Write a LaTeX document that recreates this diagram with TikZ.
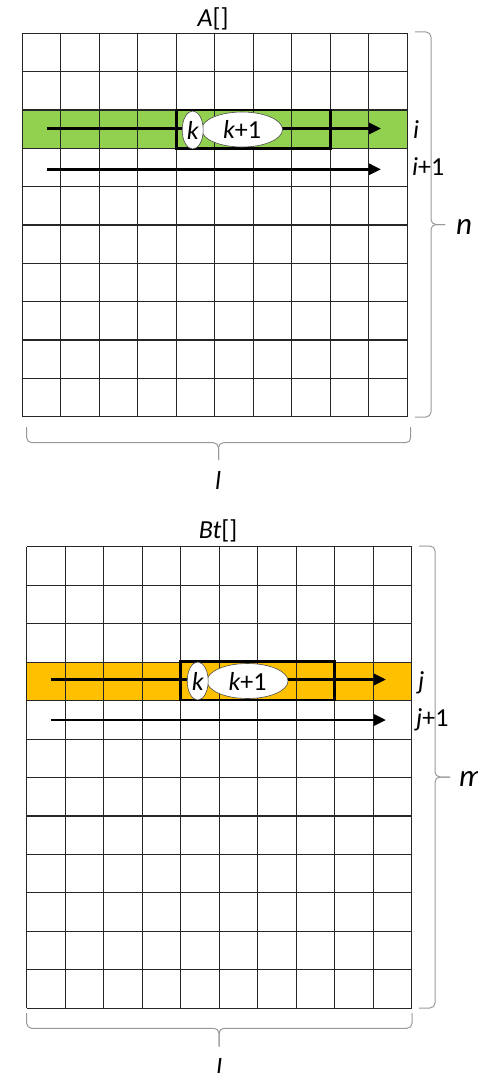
\documentclass[tikz,border=0pt]{standalone}
\usepackage{fontspec}
\setmainfont{Carlito}
\usepackage{xcolor}
\usetikzlibrary{arrows.meta, shapes.geometric, positioning}

\definecolor{rowgreen}{HTML}{92D050}
\definecolor{roworange}{HTML}{FFC000}

\begin{document}
\begin{tikzpicture}[
    x=1pt, y=-1pt,
    >={Triangle[length=12pt, width=11pt]},
    cell/.style={line width=1.1pt, black!85},
    loopbox/.style={line width=2.6pt},
    pass/.style={->, line width=2.8pt},
    elem/.style={ellipse, draw=black!70, fill=white, line width=0.6pt, inner sep=0pt,
        font=\fontsize{26}{30}\selectfont},
    bracket/.style={draw=black!40, line width=1pt, rounded corners=5pt},
    lbl/.style={font=\fontsize{26}{30}\selectfont\itshape, inner sep=0pt},
    dimlbl/.style={font=\fontsize{31}{36}\selectfont\itshape, inner sep=0pt, anchor=west}
]
\useasboundingbox (0,0) rectangle (477,1073);

% === 矩阵 A ===
\fill[rowgreen] (22.3,110) rectangle (407.3,148.6);
\foreach \c in {0,...,10}
    \draw[cell] (22.3+38.5*\c, 33.3) -- ++(0,383.4);
\foreach \r in {0,...,10}
    \draw[cell] (22.3, 33.3+38.34*\r) -- ++(385,0);
\draw[loopbox] (176.3,110) rectangle (330.3,148.6);

\coordinate (ai0) at (46.7,128.5);
\coordinate (ai1) at (381,128.5);
\coordinate (aj0) at (46.7,169.3);
\coordinate (aj1) at (381,169.3);
\draw[pass] (ai0) -- (ai1);
\draw[pass] (aj0) -- (aj1);

\node[elem, minimum width=81, minimum height=35] (akk) at (242,129.5) {\itshape k\upshape+1};
\node[elem, minimum width=21, minimum height=38] (ak) at (192.7,130) {\itshape k};

\node[lbl] (atitle) at (213,19) {A\upshape[]};
\node[lbl, anchor=west] (ai) at (413,130) {i};
\node[lbl, anchor=west] (ai1lbl) at (412,167) {i\upshape+1};

% === 括号 n, l ===
\draw[bracket] (415,32) -- (431,32) -- (431,224.5) -- (445,224.5);
\draw[bracket] (415,417) -- (431,417) -- (431,224.5) -- (445,224.5);
\node[dimlbl] (n) at (456,227) {n};
\draw[bracket] (26.7,427) -- (26.7,442.7) -- (218.5,442.7) -- (218.5,460);
\draw[bracket] (410.7,427) -- (410.7,442.7) -- (218.5,442.7) -- (218.5,460);
\node[lbl] (al) at (218,480) {l};

% === 矩阵 Bt ===
\fill[roworange] (26.7,661.7) rectangle (411.7,700.1);
\foreach \c in {0,...,10}
    \draw[cell] (26.7+38.5*\c, 546.7) -- ++(0,461.6);
\foreach \r in {0,...,12}
    \draw[cell] (26.7, 546.7+38.47*\r) -- ++(385,0);
\draw[loopbox] (180.7,661.7) rectangle (334.7,700.1);

\coordinate (bj0) at (50.7,679.5);
\coordinate (bj1) at (386,679.5);
\coordinate (bk0) at (50.7,720);
\coordinate (bk1) at (386,720);
\draw[pass] (bj0) -- (bj1);
\draw[pass] (bk0) -- (bk1);

\node[elem, minimum width=81, minimum height=35] (bkk) at (247.5,681) {\itshape k\upshape+1};
\node[elem, minimum width=21, minimum height=38] (bk) at (197.7,681) {\itshape k};

\node[lbl] (btitle) at (218,531) {Bt\upshape[]};
\node[lbl, anchor=west] (bj) at (418,683) {j};
\node[lbl, anchor=west] (bj1lbl) at (416,720) {j\upshape+1};

% === 括号 m, l ===
\draw[bracket] (419,546) -- (435,546) -- (435,777) -- (450,777);
\draw[bracket] (419,1008) -- (435,1008) -- (435,777) -- (450,777);
\node[dimlbl] (m) at (459,779) {m};
\draw[bracket] (26.7,1013) -- (26.7,1028.3) -- (219,1028.3) -- (219,1046.7);
\draw[bracket] (412,1013) -- (412,1028.3) -- (219,1028.3) -- (219,1046.7);
\node[lbl] (bl) at (219,1067) {l};

\end{tikzpicture}
\end{document}
